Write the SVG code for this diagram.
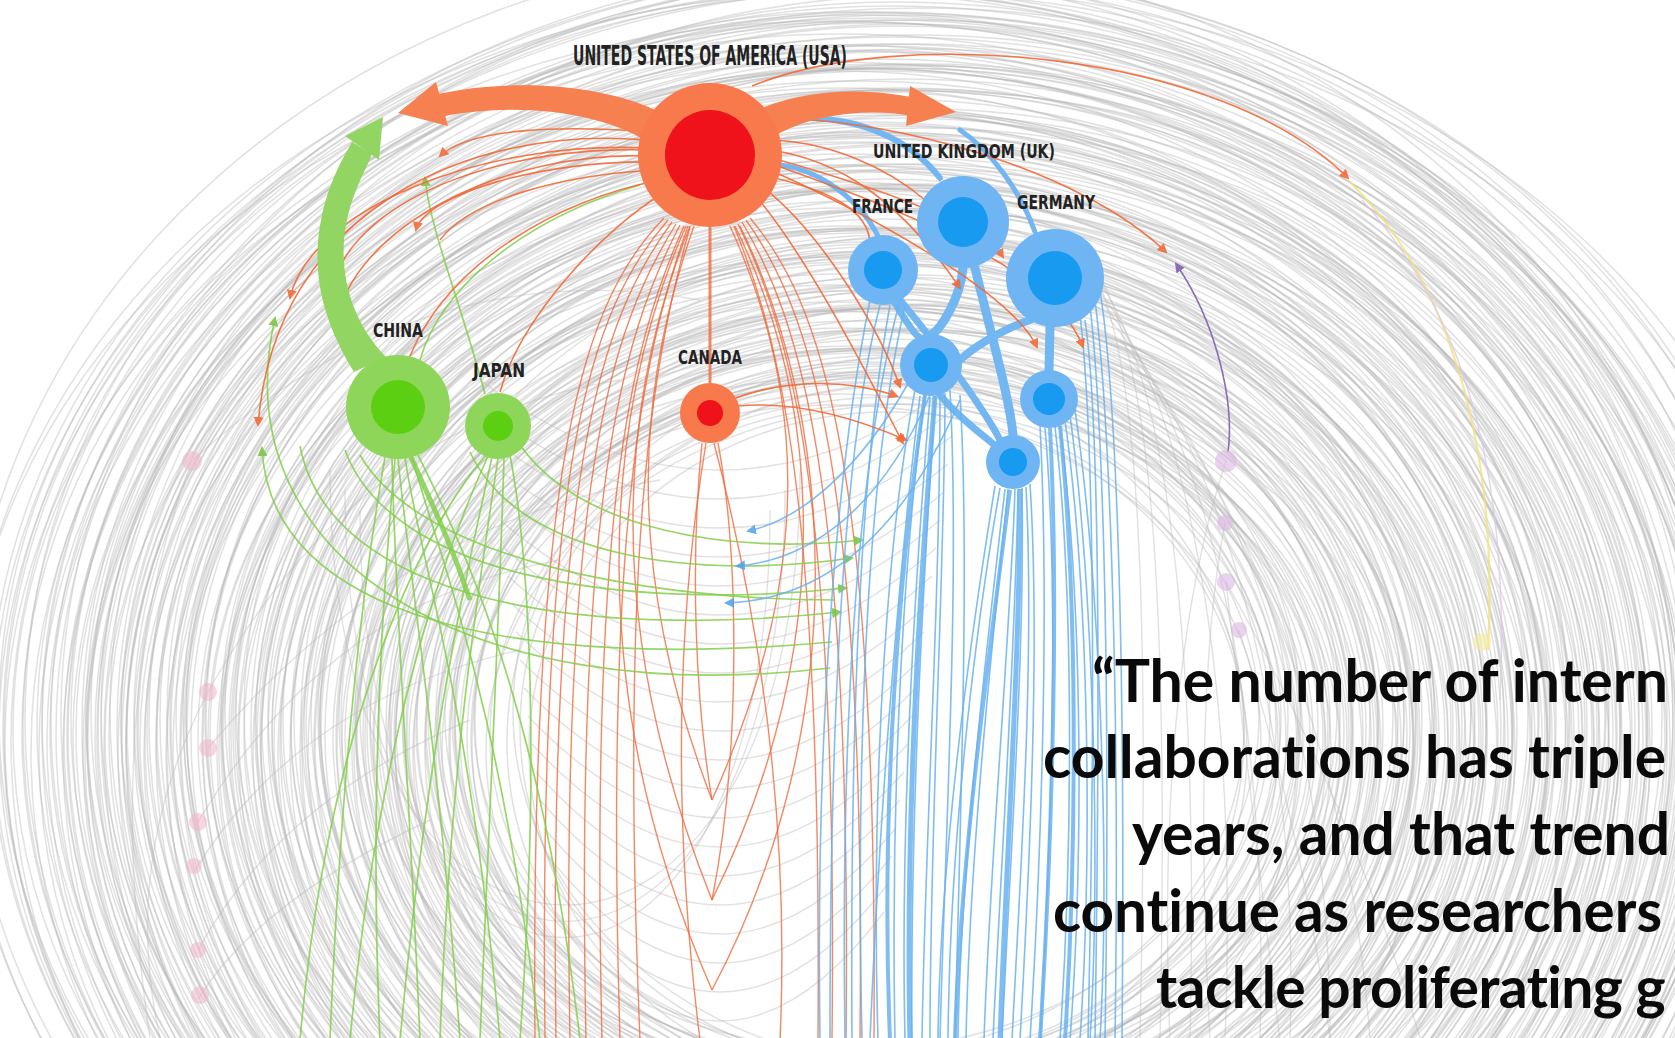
<svg xmlns="http://www.w3.org/2000/svg" width="1675" height="1038" viewBox="0 0 1675 1038">
<style>
.ring{stroke:#b9b9b9;stroke-width:1.5;fill:none;opacity:.42}
.gl{stroke:#bdbdbd;stroke-width:1.4;fill:none;opacity:.45}
.o{stroke:#f26a38;stroke-width:1.6;fill:none;opacity:.9}
.r{stroke:#f06a3c;stroke-width:1.4;fill:none;opacity:.8}
.gn{stroke:#84cf4c;stroke-width:1.7;fill:none;opacity:.85}
.bl{stroke:#69b2f0;stroke-width:1.6;fill:none;opacity:.85}
.blt{stroke:#72b6f2;fill:none;stroke-linecap:round}
.lbl{font-family:"DejaVu Sans Condensed","Liberation Sans Narrow","DejaVu Sans",sans-serif;font-weight:bold;fill:#222;font-size:20px}
.q{font-family:Lato,"Open Sans","Liberation Sans",sans-serif;font-weight:bold;fill:#0a0a0a;font-size:59px;font-variant-ligatures:none}
.uo{fill:#f8794b}.ui{fill:#f0121a}
.go{fill:#8ed65a}.gi{fill:#5ccf12}
.bo{fill:#70b5f3}.bi{fill:#179af0}
.pk{fill:#f2b4c9;opacity:.55}
.pp{fill:#dcb6e2;opacity:.6}
</style>
<defs>
<path id="ring" vector-effect="non-scaling-stroke" d="M0,-1 C0.5523,-1 1,-0.5523 1,0 C1,0.5523 0.5523,1 0,1 C-0.5523,1 -1,0.5523 -1,0 C-1,-0.5523 -0.5523,-1 0,-1 Z"/>
<marker id="ao" viewBox="0 0 10 10" refX="8" refY="5" markerWidth="10" markerHeight="10" markerUnits="userSpaceOnUse" orient="auto"><path d="M0,0 L10,5 L0,10 Z" fill="#f26a38"/></marker>
<marker id="ag" viewBox="0 0 10 10" refX="8" refY="5" markerWidth="10" markerHeight="10" markerUnits="userSpaceOnUse" orient="auto"><path d="M0,0 L10,5 L0,10 Z" fill="#74c43c"/></marker>
<marker id="ab" viewBox="0 0 10 10" refX="8" refY="5" markerWidth="10" markerHeight="10" markerUnits="userSpaceOnUse" orient="auto"><path d="M0,0 L10,5 L0,10 Z" fill="#4da2ec"/></marker>
<marker id="ap" viewBox="0 0 10 10" refX="8" refY="5" markerWidth="10" markerHeight="10" markerUnits="userSpaceOnUse" orient="auto"><path d="M0,0 L10,5 L0,10 Z" fill="#8a6db5"/></marker>
</defs>
<rect width="1675" height="1038" fill="#ffffff"/>
<g id="background-links">
<use href="#ring" class="ring" transform="translate(885 734) scale(395 330)"/>
<use href="#ring" class="ring" transform="translate(835 741) scale(426 336)"/>
<use href="#ring" class="ring" transform="translate(898 728) scale(378 342)"/>
<use href="#ring" class="ring" transform="translate(913 752) scale(427 348)"/>
<use href="#ring" class="ring" transform="translate(868 716) scale(413 354)"/>
<use href="#ring" class="ring" transform="translate(842 737) scale(468 360)"/>
<use href="#ring" class="ring" transform="translate(888 721) scale(413 366)"/>
<use href="#ring" class="ring" transform="translate(902 730) scale(447 372)"/>
<use href="#ring" class="ring" transform="translate(875 742) scale(403 378)"/>
<use href="#ring" class="ring" transform="translate(925 715) scale(473 384)"/>
<use href="#ring" class="ring" transform="translate(852 736) scale(495 390)"/>
<use href="#ring" class="ring" transform="translate(895 726) scale(457 396)"/>
<use href="#ring" class="ring" transform="translate(862 750) scale(437 402)"/>
<use href="#ring" class="ring" transform="translate(880 719) scale(490 408)"/>
<use href="#ring" class="ring" transform="translate(905 733) scale(511 414)"/>
<use href="#ring" class="ring" transform="translate(850 711) scale(490 420)"/>
<use href="#ring" class="ring" transform="translate(892 734) scale(547 426)"/>
<use href="#ring" class="ring" transform="translate(872 741) scale(481 432)"/>
<use href="#ring" class="ring" transform="translate(920 727) scale(531 438)"/>
<use href="#ring" class="ring" transform="translate(858 752) scale(504 444)"/>
<use href="#ring" class="ring" transform="translate(885 734) scale(529 450)"/>
<use href="#ring" class="ring" transform="translate(835 741) scale(561 456)"/>
<use href="#ring" class="ring" transform="translate(898 728) scale(512 462)"/>
<use href="#ring" class="ring" transform="translate(913 752) scale(561 468)"/>
<use href="#ring" class="ring" transform="translate(868 716) scale(548 474)"/>
<use href="#ring" class="ring" transform="translate(842 737) scale(603 480)"/>
<use href="#ring" class="ring" transform="translate(888 721) scale(547 486)"/>
<use href="#ring" class="ring" transform="translate(902 730) scale(581 492)"/>
<use href="#ring" class="ring" transform="translate(875 742) scale(538 498)"/>
<use href="#ring" class="ring" transform="translate(925 715) scale(607 504)"/>
<use href="#ring" class="ring" transform="translate(852 736) scale(629 510)"/>
<use href="#ring" class="ring" transform="translate(895 726) scale(591 516)"/>
<use href="#ring" class="ring" transform="translate(862 750) scale(572 522)"/>
<use href="#ring" class="ring" transform="translate(880 719) scale(624 528)"/>
<use href="#ring" class="ring" transform="translate(905 733) scale(645 534)"/>
<use href="#ring" class="ring" transform="translate(850 711) scale(625 540)"/>
<use href="#ring" class="ring" transform="translate(892 734) scale(682 546)"/>
<use href="#ring" class="ring" transform="translate(872 741) scale(615 552)"/>
<use href="#ring" class="ring" transform="translate(920 727) scale(665 558)"/>
<use href="#ring" class="ring" transform="translate(858 752) scale(639 564)"/>
<use href="#ring" class="ring" transform="translate(885 734) scale(663 570)"/>
<use href="#ring" class="ring" transform="translate(835 741) scale(695 576)"/>
<use href="#ring" class="ring" transform="translate(898 728) scale(647 582)"/>
<use href="#ring" class="ring" transform="translate(913 752) scale(696 588)"/>
<use href="#ring" class="ring" transform="translate(868 716) scale(682 594)"/>
<use href="#ring" class="ring" transform="translate(842 737) scale(737 600)"/>
<use href="#ring" class="ring" transform="translate(888 721) scale(682 606)"/>
<use href="#ring" class="ring" transform="translate(902 730) scale(715 612)"/>
<use href="#ring" class="ring" transform="translate(875 742) scale(672 618)"/>
<use href="#ring" class="ring" transform="translate(925 715) scale(742 624)"/>
<use href="#ring" class="ring" transform="translate(852 736) scale(764 630)"/>
<use href="#ring" class="ring" transform="translate(895 726) scale(725 636)"/>
<use href="#ring" class="ring" transform="translate(862 750) scale(706 642)"/>
<use href="#ring" class="ring" transform="translate(880 719) scale(759 648)"/>
<use href="#ring" class="ring" transform="translate(905 733) scale(779 654)"/>
<use href="#ring" class="ring" transform="translate(850 711) scale(759 660)"/>
<use href="#ring" class="ring" transform="translate(892 734) scale(816 666)"/>
<use href="#ring" class="ring" transform="translate(872 741) scale(750 672)"/>
<use href="#ring" class="ring" transform="translate(920 727) scale(799 678)"/>
<use href="#ring" class="ring" transform="translate(858 752) scale(773 684)"/>
<use href="#ring" class="ring" transform="translate(885 734) scale(798 690)"/>
<use href="#ring" class="ring" transform="translate(835 741) scale(830 696)"/>
<use href="#ring" class="ring" transform="translate(898 728) scale(781 702)"/>
<use href="#ring" class="ring" transform="translate(913 752) scale(830 708)"/>
<use href="#ring" class="ring" transform="translate(885 734) scale(817 714)"/>
<use href="#ring" class="ring" transform="translate(835 741) scale(871 720)"/>
<use href="#ring" class="ring" transform="translate(898 728) scale(816 726)"/>
<use href="#ring" class="ring" transform="translate(913 752) scale(850 732)"/>
<use href="#ring" class="ring" transform="translate(868 716) scale(807 738)"/>
<use href="#ring" class="ring" transform="translate(842 737) scale(876 744)"/>
<use href="#ring" class="ring" transform="translate(888 721) scale(898 750)"/>
<use href="#ring" class="ring" transform="translate(902 730) scale(860 756)"/>
<use href="#ring" class="ring" transform="translate(842 726) scale(402 332)"/>
<use href="#ring" class="ring" transform="translate(888 750) scale(359 338)"/>
<use href="#ring" class="ring" transform="translate(902 719) scale(428 344)"/>
<use href="#ring" class="ring" transform="translate(875 733) scale(450 350)"/>
<use href="#ring" class="ring" transform="translate(925 711) scale(412 356)"/>
<use href="#ring" class="ring" transform="translate(852 734) scale(392 362)"/>
<use href="#ring" class="ring" transform="translate(895 741) scale(445 368)"/>
<use href="#ring" class="ring" transform="translate(862 727) scale(466 374)"/>
<use href="#ring" class="ring" transform="translate(880 752) scale(446 380)"/>
<use href="#ring" class="ring" transform="translate(905 734) scale(502 386)"/>
<use href="#ring" class="ring" transform="translate(850 741) scale(436 392)"/>
<use href="#ring" class="ring" transform="translate(892 728) scale(486 398)"/>
<use href="#ring" class="ring" transform="translate(872 752) scale(459 404)"/>
<use href="#ring" class="ring" transform="translate(920 716) scale(484 410)"/>
<use href="#ring" class="ring" transform="translate(858 737) scale(516 416)"/>
<use href="#ring" class="ring" transform="translate(885 721) scale(468 422)"/>
<use href="#ring" class="ring" transform="translate(835 730) scale(516 428)"/>
<use href="#ring" class="ring" transform="translate(898 742) scale(503 434)"/>
<use href="#ring" class="ring" transform="translate(913 715) scale(558 440)"/>
<use href="#ring" class="ring" transform="translate(868 736) scale(503 446)"/>
<use href="#ring" class="ring" transform="translate(842 726) scale(536 452)"/>
<use href="#ring" class="ring" transform="translate(888 750) scale(493 458)"/>
<use href="#ring" class="ring" transform="translate(902 719) scale(563 464)"/>
<use href="#ring" class="ring" transform="translate(875 733) scale(584 470)"/>
<use href="#ring" class="ring" transform="translate(925 711) scale(546 476)"/>
<use href="#ring" class="ring" transform="translate(852 734) scale(527 482)"/>
<use href="#ring" class="ring" transform="translate(895 741) scale(580 488)"/>
<use href="#ring" class="ring" transform="translate(862 727) scale(600 494)"/>
<use href="#ring" class="ring" transform="translate(880 752) scale(580 500)"/>
<use href="#ring" class="ring" transform="translate(905 734) scale(637 506)"/>
<use href="#ring" class="ring" transform="translate(850 741) scale(570 512)"/>
<use href="#ring" class="ring" transform="translate(892 728) scale(620 518)"/>
<use href="#ring" class="ring" transform="translate(872 752) scale(594 524)"/>
<use href="#ring" class="ring" transform="translate(920 716) scale(619 530)"/>
<use href="#ring" class="ring" transform="translate(858 737) scale(650 536)"/>
<use href="#ring" class="ring" transform="translate(885 721) scale(602 542)"/>
<use href="#ring" class="ring" transform="translate(835 730) scale(651 548)"/>
<use href="#ring" class="ring" transform="translate(898 742) scale(637 554)"/>
<use href="#ring" class="ring" transform="translate(913 715) scale(692 560)"/>
<use href="#ring" class="ring" transform="translate(868 736) scale(637 566)"/>
<use href="#ring" class="ring" transform="translate(842 726) scale(671 572)"/>
<use href="#ring" class="ring" transform="translate(888 750) scale(627 578)"/>
<use href="#ring" class="ring" transform="translate(902 719) scale(697 584)"/>
<use href="#ring" class="ring" transform="translate(875 733) scale(719 590)"/>
<use href="#ring" class="ring" transform="translate(925 711) scale(681 596)"/>
<use href="#ring" class="ring" transform="translate(852 734) scale(661 602)"/>
<use href="#ring" class="ring" transform="translate(895 741) scale(714 608)"/>
<use href="#ring" class="ring" transform="translate(862 727) scale(735 614)"/>
<use href="#ring" class="ring" transform="translate(880 752) scale(714 620)"/>
<use href="#ring" class="ring" transform="translate(905 734) scale(771 626)"/>
<use href="#ring" class="ring" transform="translate(850 741) scale(705 632)"/>
<use href="#ring" class="ring" transform="translate(892 728) scale(755 638)"/>
<use href="#ring" class="ring" transform="translate(872 752) scale(728 644)"/>
<use href="#ring" class="ring" transform="translate(920 716) scale(753 650)"/>
<use href="#ring" class="ring" transform="translate(858 737) scale(785 656)"/>
<use href="#ring" class="ring" transform="translate(885 721) scale(736 662)"/>
<use href="#ring" class="ring" transform="translate(835 730) scale(785 668)"/>
<use href="#ring" class="ring" transform="translate(898 742) scale(772 674)"/>
<use href="#ring" class="ring" transform="translate(913 715) scale(827 680)"/>
<use href="#ring" class="ring" transform="translate(868 736) scale(771 686)"/>
<use href="#ring" class="ring" transform="translate(842 726) scale(805 692)"/>
<use href="#ring" class="ring" transform="translate(888 750) scale(762 698)"/>
<use href="#ring" class="ring" transform="translate(902 719) scale(831 704)"/>
<use href="#ring" class="ring" transform="translate(875 733) scale(853 710)"/>
<use href="#ring" class="ring" transform="translate(925 711) scale(815 716)"/>
<use href="#ring" class="ring" transform="translate(852 734) scale(796 722)"/>
<use href="#ring" class="ring" transform="translate(895 741) scale(848 728)"/>
<use href="#ring" class="ring" transform="translate(862 727) scale(869 734)"/>
<use href="#ring" class="ring" transform="translate(880 752) scale(849 740)"/>
<use href="#ring" class="ring" transform="translate(905 734) scale(906 746)"/>
<use href="#ring" class="ring" transform="translate(850 741) scale(839 752)"/>
<use href="#ring" class="ring" transform="translate(892 728) scale(889 758)"/>
<use href="#ring" class="ring" transform="translate(852 716) scale(407 334)"/>
<use href="#ring" class="ring" transform="translate(895 737) scale(428 340)"/>
<use href="#ring" class="ring" transform="translate(862 721) scale(408 346)"/>
<use href="#ring" class="ring" transform="translate(880 730) scale(464 352)"/>
<use href="#ring" class="ring" transform="translate(905 742) scale(398 358)"/>
<use href="#ring" class="ring" transform="translate(850 715) scale(448 364)"/>
<use href="#ring" class="ring" transform="translate(892 736) scale(421 370)"/>
<use href="#ring" class="ring" transform="translate(872 726) scale(446 376)"/>
<use href="#ring" class="ring" transform="translate(920 750) scale(478 382)"/>
<use href="#ring" class="ring" transform="translate(858 719) scale(430 388)"/>
<use href="#ring" class="ring" transform="translate(885 733) scale(478 394)"/>
<use href="#ring" class="ring" transform="translate(835 711) scale(465 400)"/>
<use href="#ring" class="ring" transform="translate(898 734) scale(520 406)"/>
<use href="#ring" class="ring" transform="translate(913 741) scale(464 412)"/>
<use href="#ring" class="ring" transform="translate(868 727) scale(498 418)"/>
<use href="#ring" class="ring" transform="translate(842 752) scale(455 424)"/>
<use href="#ring" class="ring" transform="translate(888 734) scale(525 430)"/>
<use href="#ring" class="ring" transform="translate(902 741) scale(546 436)"/>
<use href="#ring" class="ring" transform="translate(875 728) scale(508 442)"/>
<use href="#ring" class="ring" transform="translate(925 752) scale(489 448)"/>
<use href="#ring" class="ring" transform="translate(852 716) scale(541 454)"/>
<use href="#ring" class="ring" transform="translate(895 737) scale(562 460)"/>
<use href="#ring" class="ring" transform="translate(862 721) scale(542 466)"/>
<use href="#ring" class="ring" transform="translate(880 730) scale(599 472)"/>
<use href="#ring" class="ring" transform="translate(905 742) scale(532 478)"/>
<use href="#ring" class="ring" transform="translate(850 715) scale(582 484)"/>
<use href="#ring" class="ring" transform="translate(892 736) scale(556 490)"/>
<use href="#ring" class="ring" transform="translate(872 726) scale(581 496)"/>
<use href="#ring" class="ring" transform="translate(920 750) scale(612 502)"/>
<use href="#ring" class="ring" transform="translate(858 719) scale(564 508)"/>
<use href="#ring" class="ring" transform="translate(885 733) scale(613 514)"/>
<use href="#ring" class="ring" transform="translate(835 711) scale(599 520)"/>
<use href="#ring" class="ring" transform="translate(898 734) scale(654 526)"/>
<use href="#ring" class="ring" transform="translate(913 741) scale(599 532)"/>
<use href="#ring" class="ring" transform="translate(868 727) scale(633 538)"/>
<use href="#ring" class="ring" transform="translate(842 752) scale(589 544)"/>
<use href="#ring" class="ring" transform="translate(888 734) scale(659 550)"/>
<use href="#ring" class="ring" transform="translate(902 741) scale(681 556)"/>
<use href="#ring" class="ring" transform="translate(875 728) scale(642 562)"/>
<use href="#ring" class="ring" transform="translate(925 752) scale(623 568)"/>
<use href="#ring" class="ring" transform="translate(852 716) scale(676 574)"/>
<use href="#ring" class="ring" transform="translate(895 737) scale(697 580)"/>
<use href="#ring" class="ring" transform="translate(862 721) scale(676 586)"/>
<use href="#ring" class="ring" transform="translate(880 730) scale(733 592)"/>
<use href="#ring" class="ring" transform="translate(905 742) scale(667 598)"/>
<use href="#ring" class="ring" transform="translate(850 715) scale(716 604)"/>
<use href="#ring" class="ring" transform="translate(892 736) scale(690 610)"/>
<use href="#ring" class="ring" transform="translate(872 726) scale(715 616)"/>
<use href="#ring" class="ring" transform="translate(920 750) scale(747 622)"/>
<use href="#ring" class="ring" transform="translate(858 719) scale(698 628)"/>
<use href="#ring" class="ring" transform="translate(885 733) scale(747 634)"/>
<use href="#ring" class="ring" transform="translate(835 711) scale(734 640)"/>
<use href="#ring" class="ring" transform="translate(898 734) scale(789 646)"/>
<use href="#ring" class="ring" transform="translate(913 741) scale(733 652)"/>
<use href="#ring" class="ring" transform="translate(868 727) scale(767 658)"/>
<use href="#ring" class="ring" transform="translate(842 752) scale(724 664)"/>
<use href="#ring" class="ring" transform="translate(888 734) scale(793 670)"/>
<use href="#ring" class="ring" transform="translate(902 741) scale(815 676)"/>
<use href="#ring" class="ring" transform="translate(875 728) scale(777 682)"/>
<use href="#ring" class="ring" transform="translate(925 752) scale(758 688)"/>
<use href="#ring" class="ring" transform="translate(852 716) scale(810 694)"/>
<use href="#ring" class="ring" transform="translate(895 737) scale(831 700)"/>
<use href="#ring" class="ring" transform="translate(862 721) scale(811 706)"/>
<use href="#ring" class="ring" transform="translate(880 730) scale(867 712)"/>
<use href="#ring" class="ring" transform="translate(905 742) scale(801 718)"/>
<use href="#ring" class="ring" transform="translate(850 715) scale(851 724)"/>
<use href="#ring" class="ring" transform="translate(892 736) scale(825 730)"/>
<use href="#ring" class="ring" transform="translate(872 726) scale(849 736)"/>
<use href="#ring" class="ring" transform="translate(920 750) scale(881 742)"/>
<use href="#ring" class="ring" transform="translate(858 719) scale(833 748)"/>
<use href="#ring" class="ring" transform="translate(885 733) scale(881 754)"/>
<use href="#ring" class="ring" transform="translate(835 711) scale(868 760)"/>
<path class="gl" d="M480 380 Q720 560 960 380"/>
<path class="gl" d="M484 408 Q720 590 956 408"/>
<path class="gl" d="M488 436 Q720 620 952 436"/>
<path class="gl" d="M492 464 Q720 650 948 464"/>
<path class="gl" d="M496 492 Q720 680 944 492"/>
<path class="gl" d="M500 520 Q720 710 940 520"/>
<path class="gl" d="M504 548 Q720 740 936 548"/>
<path class="gl" d="M508 576 Q720 770 932 576"/>
<path class="gl" d="M512 604 Q720 800 928 604"/>
<path class="gl" d="M516 632 Q720 830 924 632"/>
<path class="gl" d="M520 660 Q720 860 920 660"/>
<path class="gl" d="M524 688 Q720 890 916 688"/>
<path class="gl" d="M528 716 Q720 920 912 716"/>
<path class="gl" d="M532 744 Q720 950 908 744"/>
<path class="gl" d="M536 772 Q720 980 904 772"/>
<path class="gl" d="M540 800 Q720 1010 900 800"/>
<path class="gl" d="M544 828 Q720 1040 896 828"/>
<path class="gl" d="M548 856 Q720 1070 892 856"/>
<path class="gl" d="M552 884 Q720 1100 888 884"/>
<path class="gl" d="M556 912 Q720 1130 884 912"/>
<path class="gl" d="M330 470 C330 1050 800 1050 800 470"/>
<path class="gl" d="M345 490 C345 1065 785 1065 785 490"/>
<path class="gl" d="M360 510 C360 1080 770 1080 770 510"/>
<path class="gl" d="M192 461 Q420 250 700 300"/>
<path class="gl" d="M208 692 Q360 420 620 380"/>
<path class="gl" d="M208 748 Q400 520 660 480"/>
<path class="gl" d="M198 822 Q330 600 560 560"/>
<path class="gl" d="M195 870 Q300 700 520 650"/>
<path class="gl" d="M198 950 Q280 800 470 720"/>
<path class="gl" d="M198 999 Q260 900 430 820"/>
<path class="gl" d="M192 461 Q100 700 150 1038"/>
<path class="gl" d="M208 692 Q120 860 160 1038"/>
<path class="gl" d="M1226 461 Q1050 300 900 300"/>
<path class="gl" d="M1226 582 Q1350 800 1420 1038"/>
<path class="gl" d="M1239 630 Q1300 820 1330 1038"/>
<path class="gl" d="M1090 280 C1180 380 1240 650 1225 1040"/>
<path class="gl" d="M1100 300 C1200 420 1270 680 1260 1040"/>
<path class="gl" d="M1110 320 C1220 450 1300 700 1290 1040"/>
<path class="gl" d="M1080 260 C1160 330 1200 600 1190 1040"/>
<path class="gl" d="M1120 340 C1240 480 1330 720 1330 1040"/>
<path class="gl" d="M1070 240 C1150 300 1170 560 1160 1040"/>
<path class="gl" d="M1130 360 C1250 500 1350 760 1370 1040"/>
<path class="gl" d="M1060 230 C1140 280 1150 540 1140 1040"/>
<path class="gl" d="M1226 461 C1180 600 1160 800 1170 1040"/>
<path class="gl" d="M1225 523 C1200 650 1200 850 1210 1040"/>
<path class="gl" d="M1226 582 C1240 700 1260 880 1280 1040"/>
</g>
<g id="connectors">
<g id="red-links">
<path class="r" d="M672 222 C600 320 548 470 556 1040"/>
<path class="r" d="M676 224 C610 330 560 480 570 1040"/>
<path class="r" d="M680 225 C620 340 575 500 586 1040"/>
<path class="r" d="M684 226 C628 350 590 520 602 1040"/>
<path class="r" d="M688 226 C640 360 605 540 620 1040"/>
<path class="r" d="M668 220 C590 310 538 460 545 1040"/>
<path class="r" d="M690 227 C650 370 620 560 640 1040"/>
<path class="r" d="M664 218 C585 300 530 450 535 1040"/>
<path class="r" d="M742 222 C800 320 852 480 846 1040"/>
<path class="r" d="M738 224 C790 330 838 490 832 1040"/>
<path class="r" d="M746 220 C810 310 866 470 860 1040"/>
<path class="r" d="M734 226 C780 340 822 500 818 1040"/>
<path class="r" d="M750 218 C820 300 878 460 874 1040"/>
<path class="r" d="M694 226 C640 380 620 560 712 800"/>
<path class="r" d="M730 226 C800 380 820 560 712 800"/>
<path class="r" d="M690 226 C620 400 600 620 712 900"/>
<path class="r" d="M735 226 C820 400 840 640 712 900"/>
<path class="r" d="M686 226 C600 420 585 700 712 990"/>
<path class="r" d="M740 226 C835 420 855 720 712 990"/>
<path class="r" d="M702 443 C690 560 695 700 712 800"/>
<path class="r" d="M718 443 C740 560 740 760 712 900"/>
<path class="r" d="M706 443 C680 600 670 800 700 1040"/>
<path class="r" d="M714 443 C760 620 790 820 780 1040"/>
<path class="r" d="M710 227 L710 383" style="stroke-width:3"/>
</g>
<g id="green-links">
<path class="gn" d="M405 458 C420 560 470 700 500 1040"/>
<path class="gn" d="M412 457 C440 560 500 700 540 1040"/>
<path class="gn" d="M398 459 C410 580 440 760 460 1040"/>
<path class="gn" d="M418 455 C460 540 540 700 580 1040"/>
<path class="gn" d="M392 458 C395 600 410 800 420 1040"/>
<path class="gn" d="M385 457 C360 600 340 800 330 1040"/>
<path class="gn" d="M395 459 C380 620 370 820 380 1040"/>
<path class="gn" d="M492 457 C470 560 430 720 400 1040"/>
<path class="gn" d="M498 458 C480 580 450 760 440 1040"/>
<path class="gn" d="M504 457 C500 600 490 800 480 1040"/>
<path class="gn" d="M488 456 C450 540 380 720 350 1040"/>
<path class="gn" d="M510 455 C530 560 540 760 520 1040"/>
<path class="gn" d="M486 455 C430 520 330 700 300 1040"/>
<path class="gn" d="M410 455 C430 500 450 540 470 600" style="stroke-width:5"/>
<path class="gn" d="M830 668 C470 710 220 560 275 318" marker-end="url(#ag)"/>
<path class="gn" d="M832 642 C520 670 270 620 262 448" marker-end="url(#ag)"/>
<path class="gn" d="M300 446 C330 600 580 640 840 612" marker-end="url(#ag)"/>
<path class="gn" d="M345 450 C390 575 620 612 846 588" marker-end="url(#ag)"/>
<path class="gn" d="M470 452 C520 560 700 580 852 558" marker-end="url(#ag)"/>
<path class="gn" d="M520 445 C580 530 730 555 862 540" marker-end="url(#ag)"/>
<path class="gn" d="M360 455 C420 560 650 600 835 600"/>
<path class="gn" d="M485 394 C460 300 430 230 425 178" marker-end="url(#ag)"/>
<path class="gn" d="M420 360 C440 290 520 220 640 185"/>
</g>
<g id="blue-links">
<path class="blt" d="M963 268 C960 300 940 330 931 335" style="stroke-width:9"/>
<path class="blt" d="M975 268 C990 330 1010 400 1013 435" style="stroke-width:9"/>
<path class="blt" d="M1030 320 C1000 330 970 350 960 360" style="stroke-width:8"/>
<path class="blt" d="M1050 327 L1049 370" style="stroke-width:9"/>
<path class="blt" d="M895 303 C905 320 915 335 920 338" style="stroke-width:7"/>
<path class="blt" d="M900 300 C950 360 990 420 1000 440" style="stroke-width:7"/>
<path class="blt" d="M940 395 C960 420 990 440 1000 450" style="stroke-width:7"/>
<path class="blt" d="M940 178 C910 140 860 115 790 118" style="stroke-width:6"/>
<path class="blt" d="M1035 232 C1020 190 990 150 960 130" style="stroke-width:5"/>
<path class="blt" d="M878 236 C860 200 820 170 780 165" style="stroke-width:5"/>
<path class="bl" d="M900 300 C860 450 840 700 845 1040"/>
<path class="bl" d="M905 305 C870 460 855 720 862 1040"/>
<path class="bl" d="M915 390 C890 520 870 760 878 1040"/>
<path class="bl" d="M925 395 C905 540 890 780 895 1040"/>
<path class="bl" d="M935 396 C925 560 910 800 912 1040"/>
<path class="bl" d="M945 393 C945 560 930 820 930 1040"/>
<path class="bl" d="M1000 488 C980 600 950 820 948 1040"/>
<path class="bl" d="M1008 489 C995 620 970 840 966 1040"/>
<path class="bl" d="M1015 489 C1010 640 990 860 984 1040"/>
<path class="bl" d="M1022 488 C1025 650 1010 860 1002 1040"/>
<path class="bl" d="M1030 484 C1040 640 1030 860 1020 1040"/>
<path class="bl" d="M1045 428 C1060 600 1050 860 1040 1040"/>
<path class="bl" d="M1055 427 C1075 600 1072 860 1060 1040"/>
<path class="bl" d="M1065 420 C1090 600 1092 860 1080 1040"/>
<path class="bl" d="M1075 410 C1100 580 1110 860 1100 1040"/>
<path class="bl" d="M1085 320 C1100 420 1100 700 1095 1040"/>
<path class="bl" d="M1095 300 C1110 420 1120 700 1115 1040"/>
<path class="bl" d="M880 305 C850 420 830 650 830 1040"/>
<path class="bl" d="M960 395 C970 560 960 820 955 1040"/>
<path class="bl" d="M870 300 C840 450 815 700 820 1040"/>
<path class="bl" d="M890 305 C860 470 850 720 852 1040"/>
<path class="bl" d="M920 396 C900 560 880 800 870 1040"/>
<path class="bl" d="M930 397 C915 580 900 820 905 1040"/>
<path class="bl" d="M940 396 C940 600 925 840 922 1040"/>
<path class="bl" d="M950 390 C960 580 945 840 940 1040"/>
<path class="bl" d="M995 486 C970 640 940 860 938 1040"/>
<path class="bl" d="M1005 489 C985 660 960 880 958 1040"/>
<path class="bl" d="M1018 489 C1015 660 1000 880 993 1040"/>
<path class="bl" d="M1026 487 C1035 660 1020 880 1012 1040"/>
<path class="bl" d="M1040 425 C1050 620 1040 880 1030 1040"/>
<path class="bl" d="M1060 426 C1085 620 1082 880 1070 1040"/>
<path class="bl" d="M1070 415 C1095 600 1100 880 1090 1040"/>
<path class="bl" d="M1080 315 C1095 440 1095 720 1088 1040"/>
<path class="bl" d="M1090 305 C1105 440 1110 720 1105 1040"/>
<path class="bl" d="M1100 290 C1120 420 1125 720 1122 1040"/>
<path class="bl" d="M925 395 C900 560 880 800 890 1040" style="stroke-width:4"/>
<path class="bl" d="M935 396 C920 580 905 820 910 1040" style="stroke-width:5"/>
<path class="bl" d="M1010 490 C990 650 960 860 955 1040" style="stroke-width:4"/>
<path class="bl" d="M1020 489 C1020 660 1005 880 1000 1040" style="stroke-width:5"/>
<path class="bl" d="M1050 428 C1060 620 1050 880 1040 1040" style="stroke-width:4"/>
<path class="bl" d="M1060 426 C1080 620 1075 880 1065 1040" style="stroke-width:4"/>
<path class="bl" d="M910 380 C860 470 800 520 748 531" marker-end="url(#ab)"/>
<path class="bl" d="M930 395 C880 510 810 560 737 566" marker-end="url(#ab)"/>
<path class="bl" d="M960 400 C900 540 820 600 726 603" marker-end="url(#ab)"/>
</g>
<g id="orange-links">
<path class="o" d="M645 140 C470 125 275 210 258 425" marker-end="url(#ao)"/>
<path class="o" d="M648 148 C480 140 310 210 290 298" marker-end="url(#ao)"/>
<path class="o" d="M652 156 C500 150 350 230 336 326" marker-end="url(#ao)"/>
<path class="o" d="M650 150 C520 145 360 190 332 286" marker-end="url(#ao)"/>
<path class="o" d="M655 162 C540 160 425 195 416 230" marker-end="url(#ao)"/>
<path class="o" d="M650 132 C560 125 470 128 440 156" marker-end="url(#ao)"/>
<path class="o" d="M656 170 C560 175 470 200 440 240"/>
<path class="o" d="M660 180 C560 200 450 260 410 356"/>
<path class="o" d="M668 190 C600 230 520 320 500 392"/>
<path class="o" d="M765 140 C830 140 890 170 925 200"/>
<path class="o" d="M770 150 C840 160 900 200 960 288" marker-end="url(#ao)"/>
<path class="o" d="M772 158 C850 180 980 220 1003 257" marker-end="url(#ao)"/>
<path class="o" d="M775 165 C870 200 1050 260 1083 347" marker-end="url(#ao)"/>
<path class="o" d="M770 170 C860 210 1010 290 1037 347" marker-end="url(#ao)"/>
<path class="o" d="M760 185 C820 230 880 330 900 387" marker-end="url(#ao)"/>
<path class="o" d="M755 195 C810 260 870 380 903 443" marker-end="url(#ao)"/>
<path class="o" d="M762 175 C830 190 870 210 870 245"/>
<path class="o" d="M738 406 C800 400 860 420 906 440" marker-end="url(#ao)"/>
<path class="o" d="M736 398 C790 378 850 380 897 396" marker-end="url(#ao)"/>
<path class="o" d="M752 86 C900 25 1220 50 1348 178" marker-end="url(#ao)"/>
<path d="M1350 182 C1440 270 1500 430 1488 650" style="stroke:#f3e27a;stroke-width:2.2;fill:none;opacity:.8"/>
<path d="M1362 200 C1452 300 1512 450 1500 700" style="stroke:#d8cce8;stroke-width:1.5;fill:none;opacity:.8"/>
<path class="o" d="M775 118 C900 120 1080 170 1166 252" marker-end="url(#ao)"/>
<path d="M1228 452 C1235 400 1215 320 1176 264" style="stroke:#8a6db5;stroke-width:1.6;fill:none" marker-end="url(#ap)"/>
</g>
<g id="thick-bands">
<path d="M354 372 C322 320 310 270 322 215 C330 180 342 160 352 142 L372 154 C366 170 352 192 346 225 C338 270 350 320 386 357 Z" fill="#93d563"/>
<path d="M345 136 L383 117 L379 160 Z" fill="#93d563"/>
<path d="M655 110 C610 88 520 76 438 94 L444 116 C520 102 600 112 648 142 Z" fill="#f6804f"/>
<path d="M436 82 L398 113 L448 126 Z" fill="#f6804f"/>
<path d="M762 108 C810 88 870 88 915 98 L912 116 C870 108 815 114 778 134 Z" fill="#f6804f"/>
<path d="M910 86 L956 112 L906 126 Z" fill="#f6804f"/>
</g>
</g>
<g id="minor-nodes">
<circle class="pk" cx="192" cy="461" r="10"/>
<circle class="pk" cx="208" cy="692" r="9"/>
<circle class="pk" cx="208" cy="748" r="9"/>
<circle class="pk" cx="198" cy="822" r="9"/>
<circle class="pk" cx="194" cy="866" r="8"/>
<circle class="pk" cx="198" cy="950" r="8"/>
<circle class="pk" cx="200" cy="995" r="9"/>
<circle class="pp" cx="1226" cy="461" r="11"/>
<circle class="pp" cx="1225" cy="523" r="8"/>
<circle class="pp" cx="1226" cy="582" r="9"/>
<circle class="pp" cx="1239" cy="630" r="8"/>
<circle cx="1482" cy="642" r="9" fill="#f5ec9c" opacity=".6"/>
</g>
<g id="node-usa">
<circle class="uo" cx="710" cy="155" r="72"/>
<circle class="ui" cx="710" cy="155" r="45"/>
<text class="lbl" x="573" y="65" textLength="274" lengthAdjust="spacingAndGlyphs" style="font-size:27px">UNITED STATES OF AMERICA (USA)</text>
</g>
<g id="node-canada">
<circle class="uo" cx="710" cy="413" r="30"/>
<circle class="ui" cx="710" cy="413" r="13"/>
<text class="lbl" x="678" y="364" textLength="64" lengthAdjust="spacingAndGlyphs">CANADA</text>
</g>
<g id="node-china">
<circle class="go" cx="398" cy="407" r="52"/>
<circle class="gi" cx="398" cy="407" r="27"/>
<text class="lbl" x="373" y="337" textLength="50" lengthAdjust="spacingAndGlyphs">CHINA</text>
</g>
<g id="node-japan">
<circle class="go" cx="498" cy="426" r="33"/>
<circle class="gi" cx="498" cy="426" r="15"/>
<text class="lbl" x="473" y="377" textLength="52" lengthAdjust="spacingAndGlyphs">JAPAN</text>
</g>
<g id="node-uk">
<circle class="bo" cx="963" cy="222" r="46"/>
<circle class="bi" cx="963" cy="222" r="25"/>
<text class="lbl" x="873" y="158" textLength="182" lengthAdjust="spacingAndGlyphs">UNITED KINGDOM (UK)</text>
</g>
<g id="node-france">
<circle class="bo" cx="883" cy="270" r="35"/>
<circle class="bi" cx="883" cy="270" r="19"/>
<text class="lbl" x="852" y="213" textLength="61" lengthAdjust="spacingAndGlyphs">FRANCE</text>
</g>
<g id="node-germany">
<circle class="bo" cx="1055" cy="278" r="49"/>
<circle class="bi" cx="1055" cy="278" r="27"/>
<text class="lbl" x="1017" y="209" textLength="78" lengthAdjust="spacingAndGlyphs">GERMANY</text>
</g>
<g id="node-europe-4">
<circle class="bo" cx="931" cy="365" r="31"/>
<circle class="bi" cx="931" cy="365" r="17"/>
</g>
<g id="node-europe-5">
<circle class="bo" cx="1049" cy="399" r="29"/>
<circle class="bi" cx="1049" cy="399" r="16"/>
</g>
<g id="node-europe-6">
<circle class="bo" cx="1013" cy="462" r="27"/>
<circle class="bi" cx="1013" cy="462" r="14"/>
</g>
<g id="quote">
<text class="q" x="1092" y="702" textLength="576" lengthAdjust="spacingAndGlyphs">“The number of intern</text>
<text class="q" x="1043" y="778" textLength="623" lengthAdjust="spacingAndGlyphs">collaborations has triple</text>
<text class="q" x="1132" y="855" textLength="538" lengthAdjust="spacingAndGlyphs">years, and that trend</text>
<text class="q" x="1053" y="932" textLength="609" lengthAdjust="spacingAndGlyphs">continue as researchers</text>
<text class="q" x="1156" y="1008" style="font-size:57px;letter-spacing:-0.6px">tackle proliferating g</text>
</g>
</svg>
